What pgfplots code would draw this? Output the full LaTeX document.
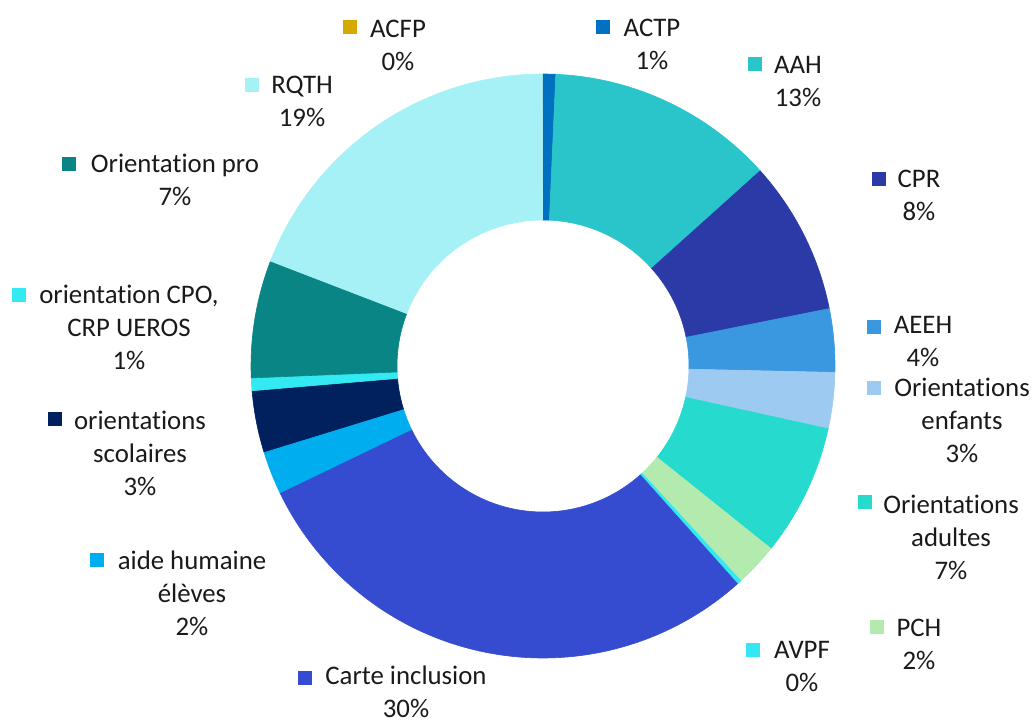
\documentclass[border=0pt]{standalone}
\usepackage{pgfplots}
\pgfplotsset{compat=1.18}
\usepackage{fontspec}
\setmainfont{Carlito}[Ligatures=NoCommon]
\definecolor{cACFP}{HTML}{D4AA00}
\definecolor{cACTP}{HTML}{0070C0}
\definecolor{cAAH}{HTML}{2AC5CB}
\definecolor{cCPR}{HTML}{2C3AA8}
\definecolor{cAEEH}{HTML}{3A98E0}
\definecolor{cENF}{HTML}{9DCAF0}
\definecolor{cADU}{HTML}{26DACE}
\definecolor{cPCH}{HTML}{B3EBAF}
\definecolor{cAVPF}{HTML}{33E8F2}
\definecolor{cCARTE}{HTML}{354CD0}
\definecolor{cAIDE}{HTML}{00AEEF}
\definecolor{cSCO}{HTML}{00215E}
\definecolor{cCPO}{HTML}{33E9F2}
\definecolor{cPRO}{HTML}{0A8585}
\definecolor{cRQTH}{HTML}{A6F1F5}
\definecolor{txt}{HTML}{1A1A1A}
\tikzset{lbl/.style={align=center, text=txt, inner sep=0pt, font={\fontsize{13.4}{16.5}\selectfont}}}
\newcommand\cum{0}
% \slice[options]{colour}{value in percent}
\newcommand\slice[3][]{%
  \pgfmathsetmacro\aS{90-3.6*\cum}%
  \pgfmathsetmacro\aE{90-3.6*(\cum+#3)}%
  \pgfmathsetmacro\newcum{\cum+#3}%
  \global\let\cum\newcum
  \edef\temp{\noexpand\fill[#2, draw=#2, line width=0.3pt, #1] ([shift={(\aS:146pt)}]axis cs:543,359) arc[start angle=\aS, end angle=\aE, radius=146pt] -- ([shift={(\aE:73pt)}]axis cs:543,359) arc[start angle=\aE, end angle=\aS, radius=73pt] -- cycle;}%
  \temp}
\newcommand\key[5]{\fill[#1] (axis cs:#2,#3) rectangle (axis cs:#4,#5);}
\begin{document}
\begin{tikzpicture}
\begin{axis}[
  width=516pt, height=362.5pt, scale only axis,
  xmin=0, xmax=1032, ymin=0, ymax=725,
  hide axis, clip=false,
]
\path (axis cs:0,0) rectangle (axis cs:1032,725);
% values (percent), clockwise from the top
\slice[draw=none]{cACFP}{0}
\slice{cACTP}{0.7}
\slice{cAAH}{12.65}
\slice{cCPR}{8.5}
\slice{cAEEH}{3.5}
\slice{cENF}{3.1}
\slice{cADU}{7.3}
\slice{cPCH}{2.4}
\slice{cAVPF}{0.25}
\slice{cCARTE}{29.45}
\slice{cAIDE}{2.4}
\slice{cSCO}{3.4}
\slice{cCPO}{0.7}
\slice{cPRO}{6.5}
\slice{cRQTH}{19.1}
% labels
\key{cACFP}{343}{705}{357}{691}
\node[lbl] at (axis cs:398,680) {ACFP\\0\%};
\key{cACTP}{596}{705}{610}{691}
\node[lbl] at (axis cs:652,680.5) {ACTP\\1\%};
\key{cAAH}{748}{668}{762}{654}
\node[lbl] at (axis cs:798,643) {AAH\\13\%};
\key{cCPR}{872}{553}{886}{539}
\node[lbl] at (axis cs:919,530) {CPR\\8\%};
\key{cAEEH}{867}{405}{881}{391}
\node[lbl] at (axis cs:923,383) {AEEH\\4\%};
\key{cENF}{867}{344}{881}{330}
\node[lbl] at (axis cs:962,305) {Orientations\\enfants\\3\%};
\key{cADU}{858}{230}{872}{216}
\node[lbl] at (axis cs:951,188) {Orientations\\adultes\\7\%};
\key{cPCH}{870}{105}{884}{91}
\node[lbl] at (axis cs:919,81) {PCH\\2\%};
\key{cAVPF}{746}{82}{760}{68}
\node[lbl] at (axis cs:802,58) {AVPF\\0\%};
\key{cCARTE}{298}{54}{312}{40}
\node[lbl] at (axis cs:406,33) {Carte inclusion\\30\%};
\key{cAIDE}{90}{172}{104}{158}
\node[lbl] at (axis cs:192,132) {aide humaine\\élèves\\2\%};
\key{cSCO}{48}{313}{62}{299}
\node[lbl] at (axis cs:140,272) {orientations\\scolaires\\3\%};
\key{cCPO}{12}{437}{26}{423}
\node[lbl] at (axis cs:129,398) {orientation CPO,\\CRP UEROS\\1\%};
\key{cPRO}{62}{568}{76}{554}
\node[lbl] at (axis cs:175,545) {Orientation pro\\7\%};
\key{cRQTH}{245}{647}{259}{633}
\node[lbl] at (axis cs:302,624) {RQTH\\19\%};
\end{axis}
\end{tikzpicture}
\end{document}
